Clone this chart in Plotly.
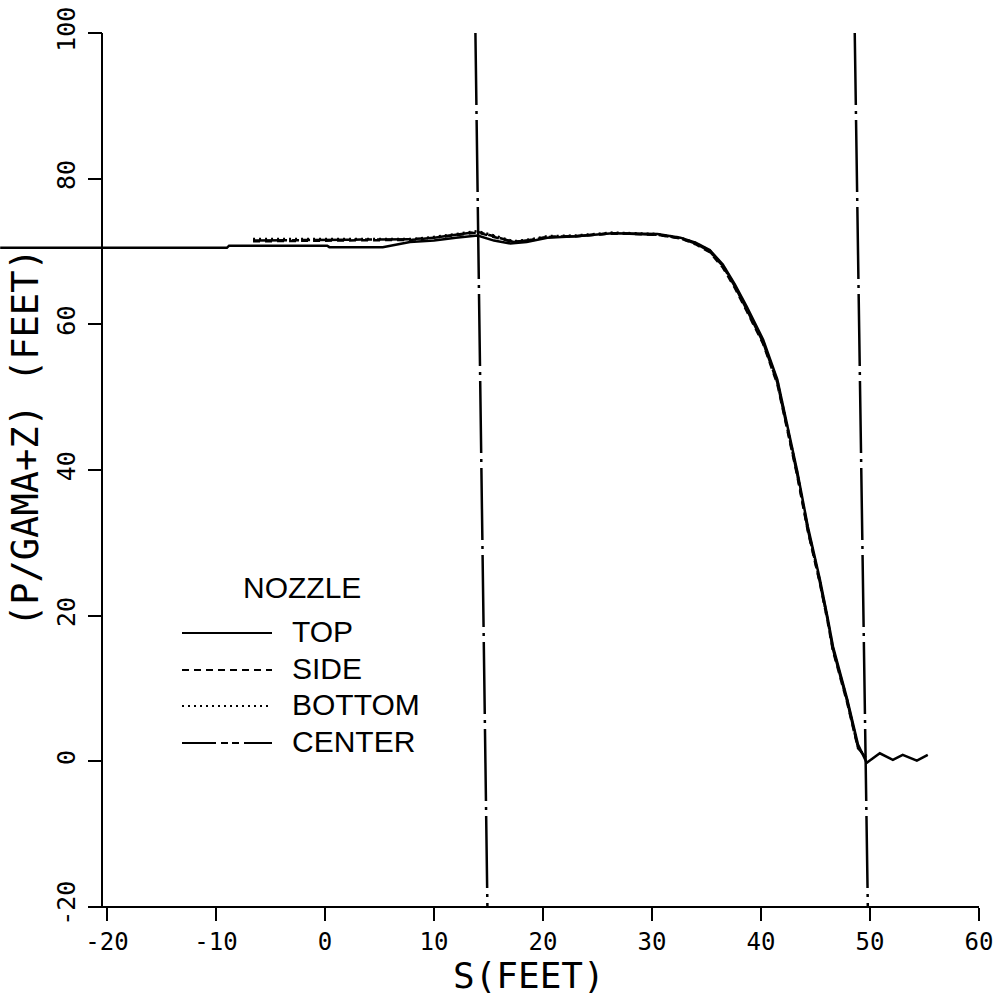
import plotly.graph_objects as go

# ---------------- data ----------------
top_x = [-29.8, -9.0, -8.8, 0.2, 0.4, 5.3, 7.8, 10.0, 12.0, 14.0, 15.5, 17.0, 18.5, 20.4,
         23.0, 26.4, 30.5, 32.6, 34.0, 35.3, 36.5, 37.6, 38.7, 40.2, 41.5, 42.5, 43.3,
         44.3, 45.4, 46.1, 46.6, 47.9, 48.9, 49.7, 50.9, 52.1, 53.0, 54.3, 55.3]
top_y = [70.5, 70.5, 70.8, 70.8, 70.6, 70.6, 71.3, 71.5, 71.9, 72.2, 71.5, 71.1, 71.3, 71.9,
         72.1, 72.5, 72.4, 71.9, 71.2, 70.2, 68.2, 65.5, 62.4, 57.9, 52.4, 45.6, 40.0,
         32.2, 25.0, 19.8, 15.8, 8.6, 2.3, -0.2, 1.1, 0.2, 0.9, 0.1, 0.9]

probe_x = [-6.6, 0.0, 5.0, 8.0, 10.0, 12.0, 14.0, 15.5, 17.3, 19.0, 20.4, 23.0, 26.4, 30.5,
           32.6, 34.0, 35.3, 36.5, 37.6, 38.7, 40.2, 41.5, 42.5, 43.3, 44.3, 45.4, 46.1,
           46.6, 47.9, 48.9, 49.6]
side_y = [71.4, 71.5, 71.5, 71.6, 71.9, 72.3, 72.6, 72.0, 71.3, 71.6, 72.0, 72.1, 72.5, 72.3,
          71.8, 71.0, 69.9, 67.8, 65.0, 61.8, 57.3, 51.8, 45.0, 39.4, 31.6, 24.5, 19.3,
          15.2, 8.1, 1.8, 0.6]
bottom_y = [71.7, 71.7, 71.6, 71.7, 72.0, 72.4, 72.8, 72.2, 71.4, 71.7, 72.1, 72.2, 72.6, 72.4,
            71.9, 71.2, 70.1, 68.1, 65.3, 62.1, 57.6, 52.2, 45.3, 39.8, 31.9, 24.8, 19.6,
            15.5, 8.4, 2.0, 0.4]
center_y = [71.5, 71.6, 71.6, 71.7, 71.9, 72.3, 72.7, 72.1, 71.3, 71.6, 72.0, 72.1, 72.5, 72.3,
            71.8, 71.1, 70.0, 68.0, 65.2, 62.0, 57.5, 52.0, 45.2, 39.6, 31.8, 24.6, 19.5,
            15.4, 8.3, 1.9, 0.5]

# vertical dash-dot reference lines (slightly skewed in the scan)
vline1_x = [13.8, 14.9]
vline2_x = [48.6, 49.8]
vline_y = [100, -20]

x_ticks = [-20, -10, 0, 10, 20, 30, 40, 50, 60]
y_ticks = [-20, 0, 20, 40, 60, 80, 100]

series_names = ["TOP", "SIDE", "BOTTOM", "CENTER"]
series_dash = ["solid", "7px,5px", "2px,4px", "34px,5px,7px,4px,7px,5px"]

# ---------------- figure ----------------
W, H = 999, 998
MONO = "DejaVu Sans Mono"
SANS = "Liberation Sans"

fig = go.Figure()

curves = [(top_x, top_y), (probe_x, side_y), (probe_x, bottom_y), (probe_x, center_y)]
for (xs, ys), name, dash in zip(curves, series_names, series_dash):
    fig.add_trace(go.Scatter(x=xs, y=ys, mode="lines", name=name,
                             line=dict(color="black", width=2.5, dash=dash),
                             showlegend=False))

for vx in (vline1_x, vline2_x):
    fig.add_trace(go.Scatter(x=vx, y=vline_y, mode="lines", showlegend=False,
                             line=dict(color="black", width=2.5,
                                       dash="72px,6px,3px,6px")))

# pixel geometry of the plot frame
px_per_x = 10.9
x_m20_px = 107
px_per_y = 874 / 120
y_m20_px = 907
x0 = -20 - x_m20_px / px_per_x
x1 = x0 + W / px_per_x
y_top = 100 + (y_m20_px - 120 * px_per_y) / px_per_y
y_bot = y_top - H / px_per_y
yaxis_px = 102

fig.update_layout(
    width=W, height=H,
    margin=dict(l=0, r=0, t=0, b=0),
    paper_bgcolor="white", plot_bgcolor="white",
    xaxis=dict(range=[x0, x1], domain=[0, 1], anchor="free",
               position=1 - y_m20_px / H,
               showgrid=False, zeroline=False, showline=False,
               ticks="outside", ticklen=13, tickwidth=2, tickcolor="black",
               tickvals=x_ticks, ticktext=[str(v) for v in x_ticks],
               ticklabelstandoff=0,
               tickfont=dict(family=MONO, size=24, color="black")),
    yaxis=dict(range=[y_bot, y_top], domain=[0, 1], anchor="free",
               position=yaxis_px / W,
               showgrid=False, zeroline=False, showline=False,
               ticks="outside", ticklen=14, tickwidth=2, tickcolor="black",
               tickvals=y_ticks, ticktext=[str(v) for v in y_ticks],
               tickangle=-90, ticklabelstandoff=3,
               tickfont=dict(family=MONO, size=25, color="black")),
    showlegend=False,
)

# axis lines
fig.add_shape(type="line", xref="x", yref="y", x0=-21.4, x1=60, y0=-20, y1=-20,
              line=dict(color="black", width=2))
fig.add_shape(type="line", xref="paper", yref="y", x0=yaxis_px / W, x1=yaxis_px / W,
              y0=-20, y1=100, line=dict(color="black", width=2))

# axis titles
fig.add_annotation(text="S(FEET)", xref="paper", yref="paper",
                   x=529 / W, y=0, xanchor="center", yanchor="bottom",
                   showarrow=False,
                   font=dict(family=MONO, size=36, color="black"))
fig.add_annotation(text="(P/GAMA+Z) (FEET)", xref="paper", yref="paper",
                   x=25 / W, y=1 - 438 / H, xanchor="center", yanchor="middle",
                   showarrow=False, textangle=-90,
                   font=dict(family=MONO, size=37, color="black"))

# legend (drawn box-free like the original)
fig.add_annotation(text="NOZZLE", xref="paper", yref="paper",
                   x=302 / W, y=1 - 587 / H, xanchor="center", yanchor="middle",
                   showarrow=False,
                   font=dict(family=SANS, size=30, color="black"))
leg_rows_px = [633, 670, 706, 743]
for name, dash, ypx in zip(series_names, series_dash, leg_rows_px):
    fig.add_shape(type="line", xref="paper", yref="paper",
                  x0=182 / W, x1=272 / W, y0=1 - ypx / H, y1=1 - ypx / H,
                  line=dict(color="black", width=2, dash=dash))
    fig.add_annotation(text=name, xref="paper", yref="paper",
                       x=290 / W, y=1 - (ypx - 2) / H, xanchor="left", yanchor="middle",
                       showarrow=False,
                       font=dict(family=SANS, size=30, color="black"))

fig.write_html("out.html")
